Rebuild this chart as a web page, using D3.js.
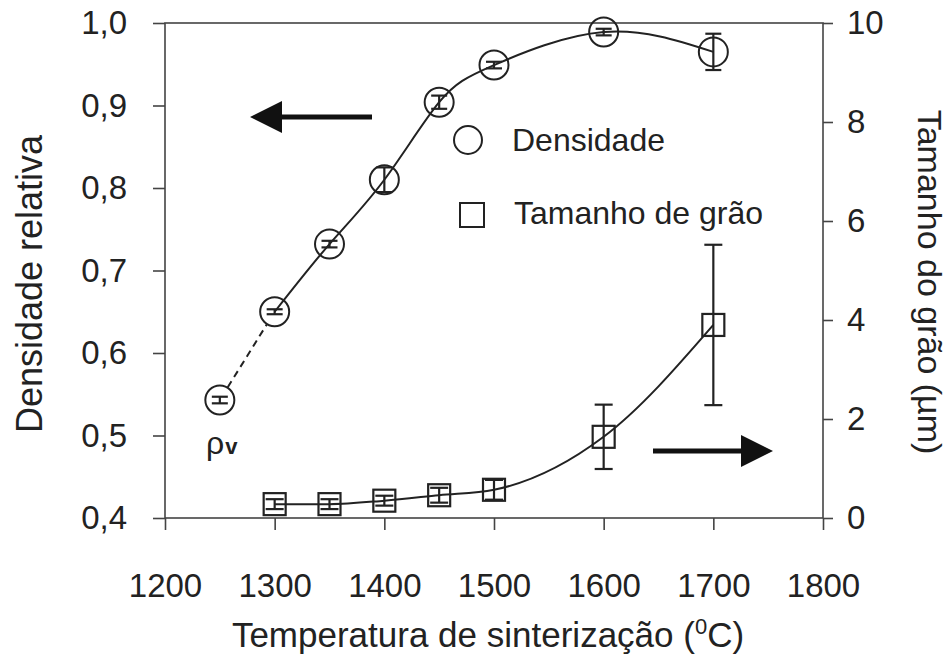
<!DOCTYPE html>
<html>
<head>
<meta charset="utf-8">
<script src="https://cdn.jsdelivr.net/npm/d3@7"></script>
<style>
  html, body { margin: 0; padding: 0; background: #fff; }
  svg text { font-family: "Liberation Sans", Arial, Helvetica, sans-serif; fill: #222; }
</style>
</head>
<body>
<svg id="chart" width="949" height="658"></svg>
<script>
// Sintering temperature (°C) and measured relative density
const temps = [1250, 1300, 1350, 1400, 1450, 1500, 1600, 1700];
const density = [0.543, 0.650, 0.732, 0.810, 0.904, 0.949, 0.989, 0.965];
const densityErr = [0.004, 0.003, 0.004, 0.015, 0.008, 0.004, 0.004, 0.022];

// Grain size (µm) versus sintering temperature
const grainTemps = [1300, 1350, 1400, 1450, 1500, 1600, 1700];
const grain = [0.28, 0.28, 0.35, 0.46, 0.57, 1.64, 3.90];
const grainErr = [0.10, 0.10, 0.10, 0.15, 0.20, 0.65, 1.62];

// Tick values
const xTicks = [1200, 1300, 1400, 1500, 1600, 1700, 1800];
const yLeftTicks = [0.4, 0.5, 0.6, 0.7, 0.8, 0.9, 1.0];
const yRightTicks = [0, 2, 4, 6, 8, 10];

(function draw() {
  const svg = d3.select("#chart");
  const ink = "#222";

  const m = { left: 165, right: 823, top: 23, bottom: 518 };

  const x = d3.scaleLinear().domain([1200, 1800]).range([m.left, m.right]);
  const yL = d3.scaleLinear().domain([0.4, 1.0]).range([m.bottom, m.top]);
  const yR = d3.scaleLinear().domain([0, 10]).range([m.bottom, m.top]);

  // Frame
  svg.append("rect")
    .attr("x", m.left).attr("y", m.top)
    .attr("width", m.right - m.left).attr("height", m.bottom - m.top)
    .attr("fill", "none").attr("stroke", "#444").attr("stroke-width", 1.6);

  // Axes
  const styleAxis = g => {
    g.select(".domain").remove();
    g.selectAll(".tick line").attr("stroke", "#444").attr("stroke-width", 1.6);
    g.selectAll(".tick text").attr("fill", ink).attr("font-size", 33)
      .attr("font-family", "Liberation Sans, Arial, sans-serif");
  };

  svg.append("g")
    .attr("transform", `translate(0,${m.bottom})`)
    .call(d3.axisBottom(x).tickValues(xTicks).tickSize(12).tickPadding(44)
      .tickFormat(d3.format("d")))
    .call(styleAxis);

  svg.append("g")
    .attr("transform", `translate(${m.left},0)`)
    .call(d3.axisLeft(yL).tickValues(yLeftTicks).tickSize(12).tickPadding(26)
      .tickFormat(d => d.toFixed(1).replace(".", ",")))
    .call(styleAxis);

  svg.append("g")
    .attr("transform", `translate(${m.right},0)`)
    .call(d3.axisRight(yR).tickValues(yRightTicks).tickSize(10).tickPadding(14)
      .tickFormat(d3.format("d")))
    .call(styleAxis);

  // Axis titles
  svg.append("text")
    .attr("x", (m.left + m.right) / 2 - 6).attr("y", 647)
    .attr("text-anchor", "middle").attr("font-size", 35)
    .call(t => {
      t.append("tspan").text("Temperatura de sinterização (");
      t.append("tspan").attr("font-size", 22).attr("dy", -13).text("0");
      t.append("tspan").attr("dy", 13).text("C)");
    });

  svg.append("text")
    .attr("transform", "translate(42,284) rotate(-90)")
    .attr("text-anchor", "middle").attr("font-size", 36)
    .text("Densidade relativa");

  svg.append("text")
    .attr("transform", "translate(918,282) rotate(90)")
    .attr("text-anchor", "middle").attr("font-size", 34)
    .text("Tamanho do grão (µm)");

  // Density curve (solid from 1300 °C) and the dashed link to the first point
  const densPts = temps.map((t, i) => [t, density[i]]);
  const densLine = d3.line().x(d => x(d[0])).y(d => yL(d[1])).curve(d3.curveNatural);
  svg.append("path")
    .attr("d", densLine(densPts.slice(1)))
    .attr("fill", "none").attr("stroke", ink).attr("stroke-width", 2);

  {
    const [a, b] = [densPts[0], densPts[1]];
    const ax = x(a[0]), ay = yL(a[1]), bx = x(b[0]), by = yL(b[1]);
    const len = Math.hypot(bx - ax, by - ay), r = 15;
    const ux = (bx - ax) / len, uy = (by - ay) / len;
    svg.append("line")
      .attr("x1", ax + ux * r).attr("y1", ay + uy * r)
      .attr("x2", bx - ux * r).attr("y2", by - uy * r)
      .attr("stroke", ink).attr("stroke-width", 2).attr("stroke-dasharray", "7,5");
  }

  // Grain size curve
  const grainPts = grainTemps.map((t, i) => [t, grain[i]]);
  const grainLine = d3.line().x(d => x(d[0])).y(d => yR(d[1])).curve(d3.curveMonotoneX);
  svg.append("path")
    .attr("d", grainLine(grainPts))
    .attr("fill", "none").attr("stroke", ink).attr("stroke-width", 2);

  // Error bars
  function errorBars(xs, ys, errs, yScale, cap) {
    const g = svg.append("g").attr("stroke", ink).attr("stroke-width", 2.2);
    xs.forEach((t, i) => {
      const cx = x(t), y0 = yScale(ys[i] - errs[i]), y1 = yScale(ys[i] + errs[i]);
      g.append("line").attr("x1", cx).attr("x2", cx).attr("y1", y0).attr("y2", y1);
      g.append("line").attr("x1", cx - cap / 2).attr("x2", cx + cap / 2).attr("y1", y0).attr("y2", y0);
      g.append("line").attr("x1", cx - cap / 2).attr("x2", cx + cap / 2).attr("y1", y1).attr("y2", y1);
    });
  }
  errorBars(temps, density, densityErr, yL, 16);
  errorBars(grainTemps, grain, grainErr, yR, 18);

  // Markers
  svg.append("g").selectAll("circle").data(densPts).join("circle")
    .attr("cx", d => x(d[0])).attr("cy", d => yL(d[1])).attr("r", 14.5)
    .attr("fill", "none").attr("stroke", ink).attr("stroke-width", 2);

  const sq = 22;
  svg.append("g").selectAll("rect").data(grainPts).join("rect")
    .attr("x", d => x(d[0]) - sq / 2).attr("y", d => yR(d[1]) - sq / 2)
    .attr("width", sq).attr("height", sq)
    .attr("fill", "none").attr("stroke", ink).attr("stroke-width", 2.2);

  // Legend
  svg.append("circle").attr("cx", 468).attr("cy", 140).attr("r", 14)
    .attr("fill", "none").attr("stroke", ink).attr("stroke-width", 2);
  svg.append("text").attr("x", 512).attr("y", 151).attr("font-size", 32).text("Densidade");
  svg.append("rect").attr("x", 460).attr("y", 203).attr("width", 24).attr("height", 24)
    .attr("fill", "none").attr("stroke", ink).attr("stroke-width", 2);
  svg.append("text").attr("x", 514).attr("y", 224).attr("font-size", 32).text("Tamanho de grão");

  // Arrows pointing to the axis each series belongs to
  function arrow(x1, x2, y) {
    const dir = Math.sign(x2 - x1), head = 32, half = 16;
    svg.append("line")
      .attr("x1", x1).attr("x2", x2 - dir * head + dir * 2).attr("y1", y).attr("y2", y)
      .attr("stroke", "#111").attr("stroke-width", 5);
    svg.append("path")
      .attr("d", `M${x2},${y} L${x2 - dir * head},${y - half} L${x2 - dir * head},${y + half} Z`)
      .attr("fill", "#111");
  }
  arrow(372, 250, 117);
  arrow(653, 773, 451);

  // Green-density marker label
  svg.append("text").attr("x", 206).attr("y", 454).attr("font-size", 32)
    .call(t => {
      t.append("tspan").text("ρ");
      t.append("tspan").attr("font-size", 22).attr("font-weight", "bold").attr("dx", 1).text("v");
    });
})();
</script>
</body>
</html>
